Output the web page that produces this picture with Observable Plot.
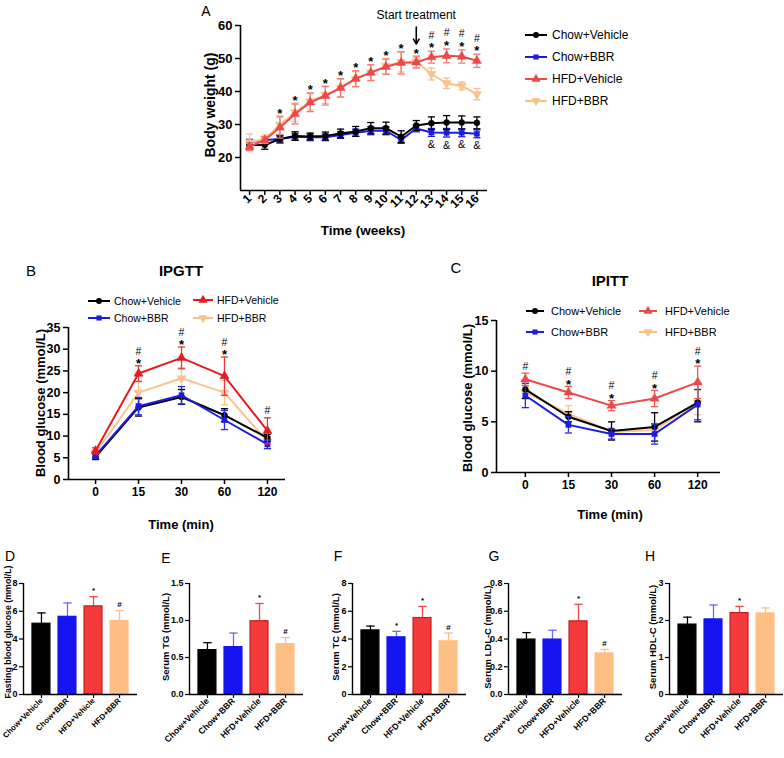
<!DOCTYPE html>
<html><head><meta charset="utf-8">
<script src="https://cdn.jsdelivr.net/npm/d3@7"></script>
<script src="https://cdn.jsdelivr.net/npm/@observablehq/plot@0.6"></script>
<style>
body{margin:0;background:#fff;}
#root{position:relative;width:784px;height:758px;overflow:hidden;font-family:"Liberation Sans",Arial,sans-serif;}
#root svg{position:absolute;left:0;}
</style></head><body><div id="root"></div>
<script>
// ---------------- DATA ----------------
const groups = ["Chow+Vehicle", "Chow+BBR", "HFD+Vehicle", "HFD+BBR"];

// Panel A: body weight (g) by week
const weeks = [1,2,3,4,5,6,7,8,9,10,11,12,13,14,15,16];
const bwChowVeh    = [23.8,23.8,25.6,26.5,26.4,26.5,27.3,27.9,28.9,28.9,26.3,29.7,30.4,30.6,30.6,30.5];
const bwChowVehErr = [1.2,1.3,1.2,1.3,1.0,1.2,1.3,1.5,1.7,1.8,1.8,1.5,1.9,2.1,2.0,1.8];
const bwChowBBR    = [24.6,25.3,25.6,26.3,26.1,26.1,26.8,27.5,28.1,28.1,25.3,28.8,27.6,27.5,27.5,27.2];
const bwChowBBRErr = [0.9,0.8,0.9,1.0,1.0,1.0,1.0,1.1,1.2,1.2,1.0,1.0,1.2,1.3,1.2,1.2];
const bwHFDVeh     = [23.3,25.3,29.1,33.2,36.7,38.7,41.1,43.9,45.7,47.5,48.7,48.8,50.4,50.8,50.6,49.3];
const bwHFDVehErr  = [1.2,1.0,3.2,3.0,2.8,2.8,2.8,2.4,2.4,2.3,3.4,1.7,1.8,2.1,2.0,2.0];
const bwHFDBBR     = [24.6,25.6,29.9,33.7,37.0,39.0,41.1,43.7,45.7,47.7,48.9,49.1,45.3,42.5,41.7,39.2];
const bwHFDBBRErr  = [2.5,1.2,2.8,2.8,2.6,2.6,2.6,2.3,2.3,2.3,3.0,1.8,1.8,1.6,1.2,1.7];
const bwStarWeeks = [3,4,5,6,7,8,9,10,11,12,13,14,15,16];
const bwHashWeeks = [13,14,15,16];
const bwAmpWeeks  = [13,14,15,16];
const bwTicks = [20,30,40,50,60];
const treatmentWeek = 12;

// Panel B: IPGTT
const times = ["0","15","30","60","120"];
const gttChowVeh    = [5.2,16.6,19.0,14.8,9.6];
const gttChowVehErr = [0.6,2.0,1.7,1.5,0.8];
const gttChowBBR    = [5.5,16.9,19.4,13.7,8.1];
const gttChowBBRErr = [0.7,2.0,2.0,2.2,1.0];
const gttHFDVeh     = [6.6,24.4,28.0,23.8,11.2];
const gttHFDVehErr  = [0.7,1.8,2.5,4.4,3.0];
const gttHFDBBR     = [6.1,20.0,23.3,20.0,8.7];
const gttHFDBBRErr  = [0.7,2.5,2.5,2.8,1.2];
const gttStar = ["15","30","60"];
const gttHash = ["15","30","60","120"];
const gttTicks = [0,5,10,15,20,25,30,35];

// Panel C: IPITT
const ittChowVeh    = [8.2,5.5,4.1,4.5,6.9];
const ittChowVehErr = [0.9,0.5,0.9,1.4,1.9];
const ittChowBBR    = [7.6,4.7,3.8,3.8,6.7];
const ittChowBBRErr = [1.2,0.8,0.5,1.0,1.5];
const ittHFDVeh     = [9.2,7.9,6.6,7.3,8.9];
const ittHFDVehErr  = [0.6,0.6,0.5,0.8,1.6];
const ittHFDBBR     = [7.9,5.8,4.0,4.2,6.9];
const ittHFDBBRErr  = [0.6,0.8,0.4,0.6,1.2];
const ittStar = ["15","30","60","120"];
const ittHash = ["0","15","30","60","120"];
const ittTicks = [0,5,10,15];

// Panels D-H: serum values (mean, SEM, marks) per group
const fbg = [5.1,5.6,6.35,5.3],      fbgErr = [0.78,1.0,0.7,0.75],     fbgMarks = ["","","*","#"];
const tg  = [0.60,0.64,0.99,0.68],   tgErr  = [0.10,0.19,0.24,0.09],   tgMarks  = ["","","*","#"];
const tc  = [4.62,4.12,5.51,3.83],   tcErr  = [0.31,0.43,0.84,0.60],   tcMarks  = ["","*","*","#"];
const ldl = [0.396,0.396,0.527,0.296], ldlErr = [0.05,0.067,0.123,0.029], ldlMarks = ["","","*","#"];
const hdl = [1.89,2.03,2.20,2.19],   hdlErr = [0.20,0.39,0.18,0.15],   hdlMarks = ["","","*",""];
const fbgTicks = [0,2,4,6,8], tgTicks = [0,0.5,1.0,1.5], tcTicks = [0,2,4,6,8], ldlTicks = [0,0.2,0.4,0.6,0.8], hdlTicks = [0,1,2,3];

// ---------------- STYLE / LAYOUT ----------------
const FONT = "Liberation Sans, Arial, Helvetica, sans-serif";
const root = document.getElementById("root");
const capSym = {draw(ctx, size){const w = Math.sqrt(size/Math.PI); ctx.moveTo(-w,0); ctx.lineTo(w,0);}};
const triDown = {draw(ctx, size){const s3 = Math.sqrt(3); const y = -Math.sqrt(size/(s3*3)); ctx.moveTo(0,-2*y); ctx.lineTo(-s3*y,y); ctx.lineTo(s3*y,y); ctx.closePath();}};
const symMap = {circle: d3.symbolCircle, square: d3.symbolSquare, triangle: d3.symbolTriangle};
function symObj(s){ return typeof s === "string" ? symMap[s] : s; }

const styleA = [
  {key:"blue",  color:"#1c1ce0", err:"#1c1ce0", symbol:"square",   r:2.9},
  {key:"black", color:"#000000", err:"#000000", symbol:"circle",   r:3.0},
  {key:"orange",color:"#f8c28a", err:"#f5c08c", symbol:triDown,    r:3.4},
  {key:"red",   color:"#ee4848", err:"#ef7a78", symbol:"triangle", r:3.4}
];
const legendStyle = {
  black: {color:"#000000", symbol:"circle", r:3.0},
  blue:  {color:"#1c1ce0", symbol:"square", r:2.9},
  red:   {color:"#ee4848", symbol:"triangle", r:3.4},
  orange:{color:"#f8c28a", symbol:triDown, r:3.4}
};
const legendStyleB = Object.assign({}, legendStyle, {red:{color:"#e41c22", symbol:"triangle", r:3.4}});

function place(svg, top){ svg.style.top = top + "px"; root.appendChild(svg); }

function seriesMarks(xs, vals, errs, st, lw, ew, cap){
  const rows = vals.map((v,i)=>({x: xs[i], y: v, lo: v - errs[i], hi: v + errs[i]}));
  return [
    Plot.ruleX(rows, {x:"x", y1:"lo", y2:"hi", stroke: st.err, strokeWidth: ew}),
    Plot.dot(rows, {x:"x", y:"hi", symbol: capSym, r: cap, stroke: st.err, strokeWidth: ew, fill:"none"}),
    Plot.dot(rows, {x:"x", y:"lo", symbol: capSym, r: cap, stroke: st.err, strokeWidth: ew, fill:"none"}),
    Plot.line(rows, {x:"x", y:"y", stroke: st.color, strokeWidth: lw}),
    Plot.dot(rows, {x:"x", y:"y", symbol: st.symbol, r: st.r, fill: st.color, stroke: st.color, strokeWidth: 0.5})
  ];
}
const baseStyle = {fontFamily: FONT, background: "transparent", overflow: "visible", color: "#000"};

// ---------------- PANEL A ----------------
{
  const seriesA = {black:[bwChowVeh,bwChowVehErr], blue:[bwChowBBR,bwChowBBRErr], red:[bwHFDVeh,bwHFDVehErr], orange:[bwHFDBBR,bwHFDBBRErr]};
  const topOf = w => bwHFDVeh[weeks.indexOf(w)] + bwHFDVehErr[weeks.indexOf(w)];
  const botOf = w => bwChowBBR[weeks.indexOf(w)] - bwChowBBRErr[weeks.indexOf(w)];
  const marks = [
    Plot.ruleX([0.4], {strokeWidth: 1.6}),
    Plot.ruleY([10], {strokeWidth: 1.6}),
    Plot.axisY({ticks: bwTicks, tickSize: 5, tickPadding: 3, fontSize: 13, fontWeight: "bold", strokeWidth: 1.5, label: null}),
    Plot.axisX({ticks: weeks, tickSize: 5, tickPadding: 1, tickRotate: -45, fontSize: 12, fontWeight: "bold", strokeWidth: 1.5, label: null})
  ];
  for (const st of styleA) marks.push(...seriesMarks(weeks, seriesA[st.key][0], seriesA[st.key][1], st, 2, 1.3, 3.6));
  marks.push(
    Plot.text(bwStarWeeks, {x: d=>d, y: topOf, text: ()=>"*", dy: -3, fontSize: 13, fontWeight:"bold", lineAnchor:"middle"}),
    Plot.text(bwHashWeeks, {x: d=>d, y: topOf, text: ()=>"#", dy: -16, fontSize: 10.5, lineAnchor:"middle"}),
    Plot.text(bwAmpWeeks, {x: d=>d, y: botOf, text: ()=>"&", dy: 8, fontSize: 11, lineAnchor:"middle"}),
    Plot.text(["Start treatment"], {x: ()=>treatmentWeek, y: ()=>63.0, text: d=>d, fontSize: 12, lineAnchor:"middle"}),
    Plot.arrow([treatmentWeek], {x1: d=>d, x2: d=>d, y1: ()=>59.5, y2: ()=>54.4, strokeWidth: 1.6, headLength: 7, bend: 0})
  );
  const svg = Plot.plot({
    width: 784, height: 245, marginLeft: 240, marginRight: 297, marginTop: 25, marginBottom: 55,
    x: {type: "linear", domain: [0.4, 16.7]}, y: {domain: [10, 60]},
    style: baseStyle, marks
  });
  place(svg, 0);
}

// ---------------- PANELS B, C ----------------
function curvePanel({top, height, mL, mR, mT, mB, xDomain, yDomain, yTicks, data, redColor, redErr, stars, hashes, order}){
  const xs = times.map((t,i)=>i);
  const styles = {
    black: {color:"#000000", err:"#000000", symbol:"circle", r:3.0},
    blue:  {color:"#1c1ce0", err:"#2a2ae0", symbol:"square", r:2.9},
    red:   {color:redColor, err:redErr, symbol:"triangle", r:3.4},
    orange:{color:"#f8c590", err:"#f5c592", symbol:triDown, r:3.4}
  };
  const red = data.red;
  const topOf = t => red[0][times.indexOf(t)] + red[1][times.indexOf(t)];
  const marks = [
    Plot.ruleX([xDomain[0]], {strokeWidth: 1.6}),
    Plot.ruleY([yDomain[0]], {strokeWidth: 1.6}),
    Plot.axisY({ticks: yTicks, tickSize: 5, tickPadding: 3, fontSize: 12.5, fontWeight: "bold", strokeWidth: 1.5, label: null}),
    Plot.axisX({ticks: xs, tickFormat: i => times[i], tickSize: 5, tickPadding: 3, fontSize: 12, fontWeight: "bold", strokeWidth: 1.5, label: null})
  ];
  for (const k of order) marks.push(...seriesMarks(xs, data[k][0], data[k][1], styles[k], 2, 1.3, 3.6));
  marks.push(
    Plot.text(stars, {x: t=>times.indexOf(t), y: topOf, text: ()=>"*", dy: -2, fontSize: 13, fontWeight:"bold", lineAnchor:"middle"}),
    Plot.text(hashes.filter(t=>stars.includes(t)), {x: t=>times.indexOf(t), y: topOf, text: ()=>"#", dy: -14.5, fontSize: 10.5, lineAnchor:"middle"}),
    Plot.text(hashes.filter(t=>!stars.includes(t)), {x: t=>times.indexOf(t), y: topOf, text: ()=>"#", dy: -7, fontSize: 10.5, lineAnchor:"middle"})
  );
  const svg = Plot.plot({
    width: 784, height, marginLeft: mL, marginRight: mR, marginTop: mT, marginBottom: mB,
    x: {type: "linear", domain: xDomain}, y: {domain: yDomain},
    style: baseStyle, marks
  });
  place(svg, top);
}
curvePanel({top: 290, height: 250, mL: 68, mR: 499, mT: 37, mB: 61, xDomain: [-0.63, 4.42], yDomain: [0,35], yTicks: gttTicks,
  data: {black:[gttChowVeh,gttChowVehErr], blue:[gttChowBBR,gttChowBBRErr], red:[gttHFDVeh,gttHFDVehErr], orange:[gttHFDBBR,gttHFDBBRErr]},
  redColor: "#e41c22", redErr: "#e4383c", stars: gttStar, hashes: gttHash, order: ["orange","black","blue","red"]});
curvePanel({top: 290, height: 250, mL: 496, mR: 64, mT: 30, mB: 68, xDomain: [-0.67, 4.53], yDomain: [0,15], yTicks: ittTicks,
  data: {black:[ittChowVeh,ittChowVehErr], blue:[ittChowBBR,ittChowBBRErr], red:[ittHFDVeh,ittHFDVehErr], orange:[ittHFDBBR,ittHFDBBRErr]},
  redColor: "#ec4a4a", redErr: "#ec5a5a", stars: ittStar, hashes: ittHash, order: ["orange","black","blue","red"]});

// ---------------- PANELS D-H ----------------
const barColors = ["#000000", "#1414f0", "#f53a3c", "#fdbf84"];
const barStroke = ["#000000", "#1414f0", "#c41c1e", "#fdbf84"];
const barErrColors = ["#000000", "#6a6af2", "#e84a4c", "#f8c08a"];
function barPanel({x0, yDomain, yTicks, fmt, vals, errs, marksTxt, labelSize}){
  const rows = vals.map((v,i)=>({i, v, hi: v + errs[i], m: marksTxt[i]}));
  const svg = Plot.plot({
    width: 784, height: 198, marginLeft: x0, marginRight: 784 - x0 - 114, marginTop: 23, marginBottom: 64,
    x: {type: "linear", domain: [-0.69, 3.69]}, y: {domain: yDomain},
    style: baseStyle,
    marks: [
      Plot.ruleX(rows, {x: "i", y1: "v", y2: "hi", stroke: d => barErrColors[d.i], strokeWidth: 1.3}),
      Plot.dot(rows, {x: "i", y: "hi", symbol: capSym, r: 4.2, stroke: d => barErrColors[d.i], strokeWidth: 1.3, fill: "none"}),
      Plot.rectY(rows, {x1: d => d.i - 0.345, x2: d => d.i + 0.345, y: "v", fill: d => barColors[d.i], stroke: d => barStroke[d.i], strokeWidth: 1.2}),
      Plot.ruleX([-0.69], {strokeWidth: 1.4}),
      Plot.ruleY([0], {strokeWidth: 1.4}),
      Plot.axisY({ticks: yTicks, tickFormat: fmt, tickSize: 4, tickPadding: 2, fontSize: 9, fontWeight: "bold", strokeWidth: 1.2, label: null}),
      Plot.axisX({ticks: [0,1,2,3], tickFormat: i => groups[i], tickSize: 4, tickPadding: 1, tickRotate: -45, fontSize: labelSize || 8.7, fontWeight: "bold", strokeWidth: 1.2, label: null}),
      Plot.text(rows.filter(d => d.m), {x: "i", y: "hi", text: "m", dy: -6, fontSize: 8, fontWeight: "bold", lineAnchor: "middle"})
    ]
  });
  place(svg, 560);
}
const fmt0 = d3.format("d"), fmt1 = d3.format(".1f");
barPanel({x0: 23,  yDomain: [0,8],   yTicks: fbgTicks, fmt: fmt0, vals: fbg, errs: fbgErr, marksTxt: fbgMarks, labelSize: 7.8});
barPanel({x0: 189, yDomain: [0,1.5], yTicks: tgTicks,  fmt: fmt1, vals: tg,  errs: tgErr,  marksTxt: tgMarks});
barPanel({x0: 352, yDomain: [0,8],   yTicks: tcTicks,  fmt: fmt0, vals: tc,  errs: tcErr,  marksTxt: tcMarks});
barPanel({x0: 508, yDomain: [0,0.8], yTicks: ldlTicks, fmt: fmt1, vals: ldl, errs: ldlErr, marksTxt: ldlMarks});
barPanel({x0: 669, yDomain: [0,3],   yTicks: hdlTicks, fmt: fmt0, vals: hdl, errs: hdlErr, marksTxt: hdlMarks});

// ---------------- TEXT LABELS & LEGENDS (overlay) ----------------
const ov = d3.select(root).append("svg").attr("width", 784).attr("height", 758)
  .style("position","absolute").style("top","0px").style("left","0px").style("font-family", FONT);
function txt(s, x, y, o = {}){
  ov.append("text").attr("x", x).attr("y", y)
    .attr("text-anchor", o.anchor || "middle").attr("dominant-baseline", "central")
    .attr("font-size", o.size || 13).attr("font-weight", o.weight || "normal")
    .attr("transform", o.rotate ? `rotate(${o.rotate},${x},${y})` : null)
    .attr("fill", "#000").text(s);
}
function legendItem(cx, cy, half, st, label, tx, size){
  ov.append("line").attr("x1", cx - half).attr("x2", cx + half).attr("y1", cy).attr("y2", cy)
    .attr("stroke", st.color).attr("stroke-width", 2);
  ov.append("path").attr("transform", `translate(${cx},${cy})`)
    .attr("d", d3.symbol(symObj(st.symbol), Math.PI * st.r * st.r)()).attr("fill", st.color);
  txt(label, tx, cy, {anchor: "start", size});
}
// Panel A
txt("A", 206, 11, {size: 14});
txt("Body weight (g)", 210, 105, {size: 14, weight: "bold", rotate: -90});
txt("Time (weeks)", 363, 230, {size: 13.5, weight: "bold"});
[["black",0],["blue",1],["red",2],["orange",3]].forEach(([k,i],j)=>legendItem(536, 35 + 22*j, 11, legendStyle[k], groups[i], 552, 12));
// Panel B
txt("B", 31, 270, {size: 15});
txt("IPGTT", 181, 270, {size: 15, weight: "bold"});
txt("Blood glucose (mmol/L)", 40, 403, {size: 13, weight: "bold", rotate: -90});
txt("Time (min)", 181, 524, {size: 13, weight: "bold"});
legendItem(99, 301, 11, legendStyleB.black, groups[0], 114, 10.5);
legendItem(99, 318, 11, legendStyleB.blue, groups[1], 114, 10.5);
legendItem(203, 300, 10, legendStyleB.red, groups[2], 217, 10.5);
legendItem(203, 318, 10, legendStyleB.orange, groups[3], 217, 10.5);
// Panel C
txt("C", 456, 267, {size: 15});
txt("IPITT", 610, 280, {size: 15, weight: "bold"});
txt("Blood glucose (mmol/L)", 467, 398, {size: 13, weight: "bold", rotate: -90});
txt("Time (min)", 610, 514, {size: 13, weight: "bold"});
const legC = Object.assign({}, legendStyle, {red:{color:"#ec4a4a", symbol:"triangle", r:3.4}});
legendItem(535, 311, 9, legC.black, groups[0], 551, 11);
legendItem(535, 332, 9, legC.blue, groups[1], 551, 11);
legendItem(648, 311, 9, legC.red, groups[2], 665, 11);
legendItem(648, 332, 9, legC.orange, groups[3], 665, 11);
// Panels D-H
txt("D", 10, 556, {size: 14});
txt("E", 166, 558, {size: 14});
txt("F", 338, 556, {size: 14});
txt("G", 494, 556, {size: 14});
txt("H", 650, 556, {size: 14});
txt("Fasting blood glucose (mmol/L)", 8, 632, {size: 8.8, weight: "bold", rotate: -90});
txt("Serum TG (mmol/L)", 165, 637, {size: 9.5, weight: "bold", rotate: -90});
txt("Serum TC (mmol/L)", 335, 637, {size: 9.5, weight: "bold", rotate: -90});
txt("Serum LDL-C (mmol/L)", 487, 637, {size: 9.5, weight: "bold", rotate: -90});
txt("Serum HDL-C (mmol/L)", 652, 637, {size: 9.5, weight: "bold", rotate: -90});
</script></body></html>
